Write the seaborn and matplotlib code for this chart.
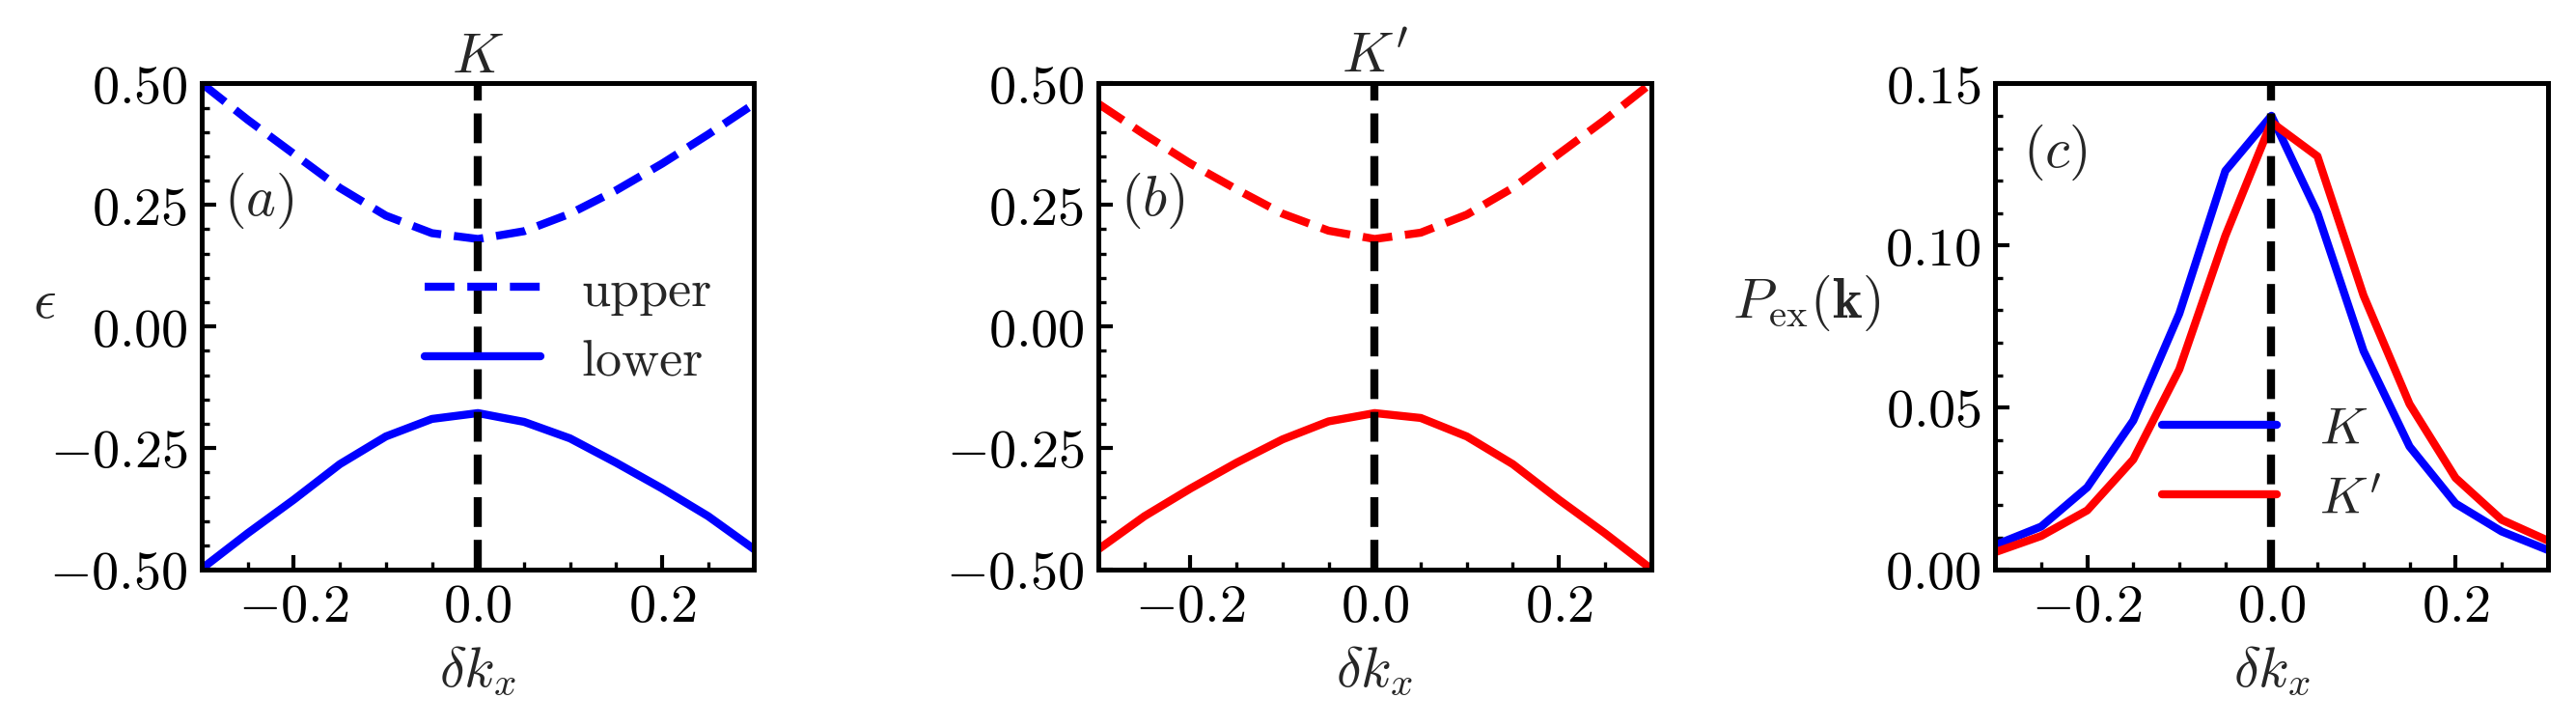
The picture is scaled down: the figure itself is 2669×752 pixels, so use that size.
import matplotlib
matplotlib.use("Agg")
import matplotlib.pyplot as plt
import seaborn as sns
from matplotlib.ticker import MultipleLocator

# momentum offsets
dk = [-0.30, -0.25, -0.20, -0.15, -0.10, -0.05, 0.00, 0.05, 0.10, 0.15, 0.20, 0.25, 0.30]

# bands at K
upper_K = [0.500, 0.425, 0.355, 0.285, 0.228, 0.192, 0.180, 0.196, 0.232, 0.280, 0.335, 0.395, 0.458]
lower_K = [-0.498, -0.425, -0.356, -0.283, -0.226, -0.190, -0.178, -0.196, -0.230, -0.280, -0.333, -0.390, -0.458]

# bands at K'
upper_Kp = [0.458, 0.395, 0.335, 0.282, 0.232, 0.197, 0.180, 0.193, 0.230, 0.285, 0.355, 0.425, 0.500]
lower_Kp = [-0.458, -0.390, -0.333, -0.280, -0.232, -0.195, -0.178, -0.188, -0.226, -0.283, -0.356, -0.425, -0.498]

# excitation probability
pex_K = [0.0076, 0.0133, 0.0254, 0.0460, 0.0790, 0.1230, 0.1400, 0.1100, 0.0675, 0.0380, 0.0204, 0.0118, 0.0061]
pex_Kp = [0.0054, 0.0104, 0.0183, 0.0340, 0.0618, 0.1030, 0.1380, 0.1275, 0.0846, 0.0511, 0.0283, 0.0154, 0.0090]

FS = 14

sns.set_style("ticks")
plt.rcParams.update({
    "font.family": "serif",
    "font.serif": ["cmr10"],
    "mathtext.fontset": "cm",
    "axes.formatter.use_mathtext": True,
    "axes.edgecolor": "black",
    "axes.linewidth": 1.2,
    "xtick.color": "black",
    "ytick.color": "black",
    "xtick.direction": "in",
    "ytick.direction": "in",
    "xtick.major.size": 3.5,
    "ytick.major.size": 3.5,
    "xtick.minor.size": 2,
    "ytick.minor.size": 2,
    "xtick.major.width": 1.0,
    "ytick.major.width": 1.0,
    "xtick.minor.width": 0.8,
    "ytick.minor.width": 0.8,
    "xtick.labelsize": 13.5,
    "ytick.labelsize": 13.5,
    "axes.labelsize": FS,
})

fig, axes = plt.subplots(1, 3, figsize=(2669 / 300, 753 / 300), dpi=300)
fig.subplots_adjust(left=0.0783, right=0.989, bottom=0.215, top=0.884, wspace=0.623)

LW = 2.0

# (a) K valley
ax = axes[0]
sns.lineplot(x=dk, y=upper_K, ax=ax, color="blue", linestyle="--", lw=LW, label="upper")
sns.lineplot(x=dk, y=lower_K, ax=ax, color="blue", linestyle="-", lw=LW, label="lower")
ax.legend(loc="center right", frameon=False, fontsize=13, handlelength=2.2,
          labelspacing=0.45, borderaxespad=0.4)
ax.set_title(r"$K$", fontsize=FS, pad=3)
ax.text(0.04, 0.76, r"$(a)$", transform=ax.transAxes, fontsize=FS, va="center")

# (b) K' valley
ax = axes[1]
sns.lineplot(x=dk, y=upper_Kp, ax=ax, color="red", linestyle="--", lw=LW)
sns.lineplot(x=dk, y=lower_Kp, ax=ax, color="red", linestyle="-", lw=LW)
ax.set_title(r"$K'$", fontsize=FS, pad=3)
ax.text(0.04, 0.76, r"$(b)$", transform=ax.transAxes, fontsize=FS, va="center")

for ax in axes[:2]:
    ax.set_ylim(-0.5, 0.5)
    ax.yaxis.set_major_locator(MultipleLocator(0.25))
    ax.yaxis.set_minor_locator(MultipleLocator(0.05))

axes[0].set_ylabel(r"$\epsilon$", rotation=0, ha="center", va="center")
axes[0].yaxis.set_label_coords(-0.285, 0.55)

# (c) excitation probability
ax = axes[2]
sns.lineplot(x=dk, y=pex_K, ax=ax, color="blue", lw=LW, label=r"$K$")
sns.lineplot(x=dk, y=pex_Kp, ax=ax, color="red", lw=LW, label=r"$K'$")
ax.legend(loc="lower center", frameon=False, fontsize=13, handlelength=2.2,
          labelspacing=0.45, bbox_to_anchor=(0.5, 0.0))
ax.set_ylim(0, 0.15)
ax.yaxis.set_major_locator(MultipleLocator(0.05))
ax.yaxis.set_minor_locator(MultipleLocator(0.01))
ax.set_ylabel(r"$P_{\rm ex}(\mathbf{k})$", rotation=0, ha="center", va="center")
ax.yaxis.set_label_coords(-0.342, 0.55)
ax.text(0.05, 0.86, r"$(c)$", transform=ax.transAxes, fontsize=FS, va="center")

for ax in axes:
    ax.axvline(0, color="black", linestyle="--", lw=LW)
    ax.set_xlim(-0.3, 0.3)
    ax.xaxis.set_major_locator(MultipleLocator(0.2))
    ax.xaxis.set_minor_locator(MultipleLocator(0.05))
    ax.set_xlabel(r"$\delta k_x$", labelpad=3)
    ax.tick_params(which="both", top=False, right=False)

fig.savefig("out.png", dpi=300)
plt.close(fig)
